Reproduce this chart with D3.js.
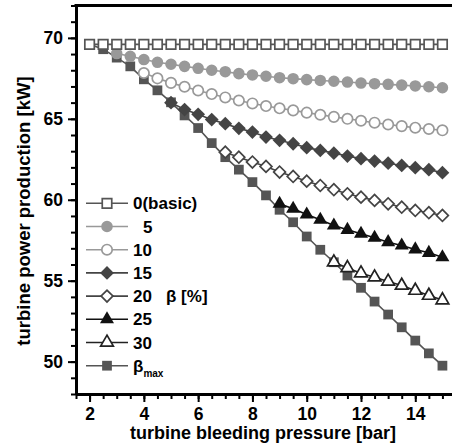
<!DOCTYPE html>
<html>
<head>
<meta charset="utf-8">
<script src="https://cdn.jsdelivr.net/npm/d3@7"></script>
<style>
  body { margin: 0; background: #fff; }
  text { font-family: "Liberation Sans", Arial, sans-serif; font-weight: bold; }
</style>
</head>
<body>
<div id="chart"></div>
<script>
// Data
var pressure = [2, 2.5, 3, 3.5, 4, 4.5, 5, 5.5, 6, 6.5, 7, 7.5, 8, 8.5, 9, 9.5, 10, 10.5, 11, 11.5, 12, 12.5, 13, 13.5, 14, 14.5, 15];

var beta0 = [69.6, 69.6, 69.6, 69.6, 69.6, 69.6, 69.6, 69.6, 69.6, 69.6, 69.6, 69.6, 69.6, 69.6, 69.6, 69.6, 69.6, 69.6, 69.6, 69.6, 69.6, 69.6, 69.6, 69.6, 69.6, 69.6, 69.6];
var beta5 = [null, null, 69.03, 68.86, 68.66, 68.49, 68.37, 68.24, 68.12, 68.00, 67.91, 67.79, 67.71, 67.63, 67.54, 67.48, 67.42, 67.37, 67.32, 67.27, 67.21, 67.17, 67.13, 67.08, 67.03, 66.98, 66.92];
var beta10 = [null, null, null, null, 67.83, 67.50, 67.22, 66.98, 66.75, 66.53, 66.32, 66.13, 65.95, 65.79, 65.65, 65.52, 65.38, 65.25, 65.12, 65.00, 64.88, 64.76, 64.65, 64.55, 64.45, 64.37, 64.29];
var beta15 = [null, null, null, null, null, null, 66.00, 65.57, 65.28, 64.95, 64.70, 64.41, 64.18, 63.87, 63.67, 63.46, 63.22, 63.05, 62.88, 62.70, 62.54, 62.39, 62.26, 62.12, 61.98, 61.86, 61.67];
var beta20 = [null, null, null, null, null, null, null, null, null, null, 62.94, 62.63, 62.33, 62.06, 61.71, 61.44, 61.15, 60.88, 60.62, 60.37, 60.16, 59.96, 59.75, 59.54, 59.34, 59.20, 59.03];
var beta25 = [null, null, null, null, null, null, null, null, null, null, null, null, null, null, 59.75, 59.44, 59.09, 58.76, 58.41, 58.14, 57.90, 57.65, 57.38, 57.17, 56.93, 56.72, 56.45];
var beta30 = [null, null, null, null, null, null, null, null, null, null, null, null, null, null, null, null, null, null, 56.14, 55.79, 55.46, 55.21, 54.95, 54.70, 54.39, 54.08, 53.80];
var betaMax = [69.6, 69.30, 68.78, 68.24, 67.44, 66.76, 66.02, 65.21, 64.43, 63.50, 62.63, 61.86, 61.09, 60.27, 59.38, 58.61, 57.73, 56.91, 56.14, 55.32, 54.56, 53.71, 52.91, 52.12, 51.30, 50.51, 49.75];

var legendLabels = ["0(basic)", "5", "10", "15", "20", "25", "30", "max"];
var xTicks = [2, 4, 6, 8, 10, 12, 14];
var yTicks = [50, 55, 60, 65, 70];

// Define svg width and height
var svgWidth = 452;
var svgHeight = 447;

var svg = d3.select("#chart")
  .append("svg")
  .attr("width", svgWidth)
  .attr("height", svgHeight);

// scales (plot runs off the right edge of the picture)
var xScale = d3.scaleLinear().domain([1.5, 15.5]).range([76, 456]);
var yScale = d3.scaleLinear().domain([48, 72]).range([394, 5.5]);

// series styles
var series = [
  { values: beta0, color: "#555", symbol: d3.symbolSquare, size: 90, open: true, rot: 0 },
  { values: beta5, color: "#999", symbol: d3.symbolCircle, size: 105, open: false, rot: 0 },
  { values: beta10, color: "#999", symbol: d3.symbolCircle, size: 85, open: true, rot: 0 },
  { values: beta15, color: "#444", symbol: d3.symbolSquare, size: 95, open: false, rot: 45 },
  { values: beta20, color: "#444", symbol: d3.symbolSquare, size: 70, open: true, rot: 45 },
  { values: beta25, color: "#111", symbol: d3.symbolTriangle, size: 85, open: false, rot: 0 },
  { values: beta30, color: "#222", symbol: d3.symbolTriangle, size: 70, open: true, rot: 0 },
  { values: betaMax, color: "#555", symbol: d3.symbolSquare, size: 95, open: false, rot: 0 }
];

var plot = svg.append("g");

var line = d3.line()
  .x(d => xScale(d.x))
  .y(d => yScale(d.y));

// draw beta max first, the rest on top of it
var drawOrder = [7, 6, 5, 4, 3, 2, 1, 0];

drawOrder.forEach(function(i) {
  var s = series[i];
  var pts = pressure.map((p, j) => ({ x: p, y: s.values[j] })).filter(d => d.y !== null);

  plot.append("path")
    .datum(pts)
    .attr("fill", "none")
    .attr("stroke", s.color)
    .attr("stroke-width", 1.6)
    .attr("d", line);

  plot.selectAll(null)
    .data(pts)
    .enter()
    .append("path")
    .attr("d", d3.symbol().type(s.symbol).size(s.size))
    .attr("transform", d => `translate(${xScale(d.x)},${yScale(d.y)}) rotate(${s.rot})`)
    .attr("fill", s.open ? "#fff" : s.color)
    .attr("stroke", s.color)
    .attr("stroke-width", s.open ? 1.7 : 0);
});

// minor ticks
svg.append("g")
  .attr("transform", "translate(0,394)")
  .call(d3.axisBottom(xScale).tickValues(d3.range(1.5, 15.6, 0.5)).tickSize(5).tickSizeOuter(0).tickFormat(""))
  .call(g => g.select(".domain").remove())
  .call(g => g.selectAll("line").attr("stroke", "#000").attr("stroke-width", 2));

svg.append("g")
  .attr("transform", "translate(76,0)")
  .call(d3.axisLeft(yScale).tickValues(d3.range(48, 72.1, 1)).tickSize(5).tickSizeOuter(0).tickFormat(""))
  .call(g => g.select(".domain").remove())
  .call(g => g.selectAll("line").attr("stroke", "#000").attr("stroke-width", 2));

// major ticks with labels
var xAxis = svg.append("g")
  .attr("transform", "translate(0,394)")
  .call(d3.axisBottom(xScale).tickValues(xTicks).tickSize(8).tickSizeOuter(0).tickPadding(6));

var yAxis = svg.append("g")
  .attr("transform", "translate(76,0)")
  .call(d3.axisLeft(yScale).tickValues(yTicks).tickSize(8).tickSizeOuter(0).tickPadding(5));

[xAxis, yAxis].forEach(function(ax) {
  ax.selectAll("line").attr("stroke", "#000").attr("stroke-width", 2);
  ax.selectAll("text").attr("fill", "#000").style("font-size", "17.5px");
  ax.select(".domain").attr("stroke", "#000").attr("stroke-width", 3);
});

// top frame line
svg.append("line")
  .attr("x1", 74.5).attr("x2", svgWidth)
  .attr("y1", 5.5).attr("y2", 5.5)
  .attr("stroke", "#000")
  .attr("stroke-width", 3);

// axis titles
svg.append("text")
  .attr("x", 263)
  .attr("y", 439)
  .attr("text-anchor", "middle")
  .style("font-size", "18px")
  .text("turbine bleeding pressure [bar]");

svg.append("text")
  .attr("transform", "translate(30,211) rotate(-90)")
  .attr("text-anchor", "middle")
  .style("font-size", "18.5px")
  .text("turbine power production [kW]");

// legend
var legend = svg.append("g");

series.forEach(function(s, i) {
  var ly = 203.3 + i * 23.2;
  legend.append("line")
    .attr("x1", 86).attr("x2", 128)
    .attr("y1", ly).attr("y2", ly)
    .attr("stroke", s.color)
    .attr("stroke-width", 1.6);
  legend.append("path")
    .attr("d", d3.symbol().type(s.symbol).size(s.size))
    .attr("transform", `translate(107,${ly}) rotate(${s.rot})`)
    .attr("fill", s.open ? "#fff" : s.color)
    .attr("stroke", s.color)
    .attr("stroke-width", s.open ? 1.7 : 0);

  if (i < 7) {
    legend.append("text")
      .attr("x", legendLabels[i] === "5" ? 143 : 133)
      .attr("y", ly + 6)
      .style("font-size", "17px")
      .text(legendLabels[i]);
  } else {
    var t = legend.append("text")
      .attr("x", 133)
      .attr("y", ly + 6)
      .style("font-size", "17px");
    t.append("tspan").text("\u03B2");
    t.append("tspan")
      .attr("dy", 5)
      .style("font-size", "10px")
      .text(legendLabels[i]);
  }
});

legend.append("text")
  .attr("x", 166)
  .attr("y", 302)
  .style("font-size", "17px")
  .text("\u03B2 [%]");
</script>
</body>
</html>
